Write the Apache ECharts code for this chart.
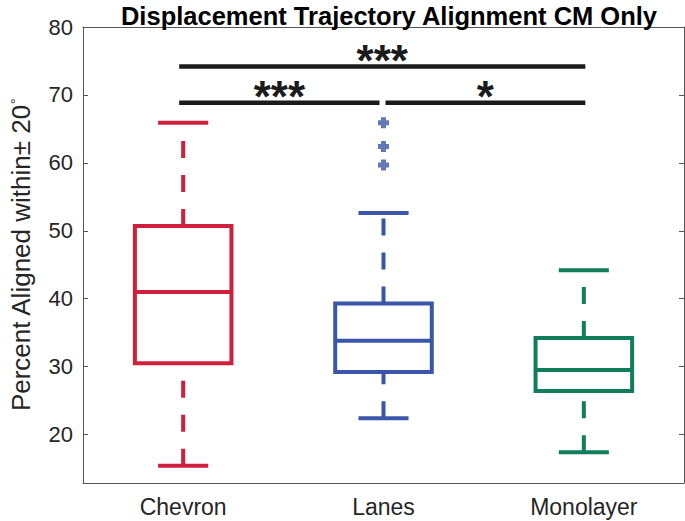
<!DOCTYPE html>
<html>
<head>
<meta charset="utf-8">
<title>Displacement Trajectory Alignment CM Only</title>
<script src="https://cdn.jsdelivr.net/npm/echarts@6/dist/echarts.min.js"></script>
<style>
  html, body { margin: 0; padding: 0; background: #fff; }
  #chart { width: 685px; height: 521px; }
</style>
</head>
<body>
<div id="chart"></div>
<script>
const categories = ['Chevron', 'Lanes', 'Monolayer']
const lowerWhisker = [15.4, 22.4, 17.4]
const q1 = [30.5, 29.2, 26.4]
const medians = [41.0, 33.8, 29.5]
const q3 = [50.7, 39.3, 34.2]
const upperWhisker = [65.9, 52.6, 44.2]
const outliers = [[1, 65.9], [1, 62.4], [1, 59.7]]
const yTicks = [20, 30, 40, 50, 60, 70, 80]
const sigPairs = [[0, 2], [0, 1], [1, 2]]
const sigLevels = [74.2, 68.85, 68.85]
const sigLabels = ['***', '***', '*']
const boxColors = ['#CF1F3D', '#3A56A8', '#127D5B']

const FONT = '"Liberation Sans", Arial, Helvetica, sans-serif'
const AXIS_COLOR = '#555'
const INK = '#1b1b1b'

const chart = echarts.init(document.getElementById('chart'), null, { renderer: 'svg' })

const renderBox = (params, api) => {
  const i = api.value(0)
  const band = api.size([1, 0])[0]
  const x = api.coord([i, 0])[0]
  const yLo = api.coord([i, api.value(1)])[1]
  const yQ1 = api.coord([i, api.value(2)])[1]
  const yMed = api.coord([i, api.value(3)])[1]
  const yQ3 = api.coord([i, api.value(4)])[1]
  const yHi = api.coord([i, api.value(5)])[1]
  const half = band * 0.241
  const cap = band * 0.125
  const color = boxColors[i]
  const solid = { stroke: color, lineWidth: 4, fill: 'none' }
  const dashed = { stroke: color, lineWidth: 4, lineDash: [17, 17] }
  return {
    type: 'group',
    children: [
      // whiskers drawn from the lower value upwards, like matlab
      { type: 'line', shape: { x1: x, y1: yLo, x2: x, y2: yQ1 }, style: dashed },
      { type: 'line', shape: { x1: x, y1: yQ3, x2: x, y2: yHi }, style: dashed },
      { type: 'line', shape: { x1: x - cap, y1: yLo, x2: x + cap, y2: yLo }, style: solid },
      { type: 'line', shape: { x1: x - cap, y1: yHi, x2: x + cap, y2: yHi }, style: solid },
      { type: 'rect', shape: { x: x - half, y: yQ3, width: half * 2, height: yQ1 - yQ3 }, style: solid },
      { type: 'line', shape: { x1: x - half, y1: yMed, x2: x + half, y2: yMed }, style: solid }
    ]
  }
}

const renderSig = (params, api) => {
  const k = params.dataIndex
  const a = api.value(0)
  const b = api.value(1)
  const y = api.coord([a, api.value(2)])[1]
  const x1 = api.coord([a, 0])[0] + (a === 0 ? -4 : 2)
  const x2 = api.coord([b, 0])[0] + (b === 2 ? 1.5 : -4)
  return {
    type: 'group',
    children: [
      { type: 'line', shape: { x1: x1, y1: y, x2: x2, y2: y }, style: { stroke: INK, lineWidth: 4.5 } },
      {
        type: 'text',
        x: (x1 + x2) / 2,
        y: y - 6,
        style: {
          text: sigLabels[k],
          align: 'center',
          verticalAlign: 'middle',
          font: 'bold 44px ' + FONT,
          fill: INK
        }
      }
    ]
  }
}

const xAxisBase = {
  type: 'category',
  data: categories,
  axisLine: { lineStyle: { color: AXIS_COLOR, width: 1 } },
  axisTick: { inside: true, alignWithLabel: true, length: 5, lineStyle: { color: AXIS_COLOR } },
  splitLine: { show: false }
}

const yAxisBase = {
  type: 'value',
  min: 12.87,
  max: 80,
  axisLine: { show: true, lineStyle: { color: AXIS_COLOR, width: 1 } },
  axisTick: { show: true, inside: true, length: 5, customValues: yTicks, lineStyle: { color: AXIS_COLOR } },
  splitLine: { show: false }
}

const option = {
  animation: false,
  backgroundColor: '#fff',
  title: {
    text: 'Displacement Trajectory Alignment CM Only',
    left: 384,
    top: -2,
    textAlign: 'center',
    textStyle: { fontSize: 25.5, fontWeight: 'bold', color: '#000', fontFamily: FONT }
  },
  grid: { left: 83, right: 1, top: 27, bottom: 38 },
  xAxis: [
    {
      ...xAxisBase,
      position: 'bottom',
      axisLabel: { fontSize: 23, color: '#262626', margin: 12, fontFamily: FONT }
    },
    {
      ...xAxisBase,
      position: 'top',
      axisLabel: { show: false }
    }
  ],
  yAxis: [
    {
      ...yAxisBase,
      position: 'left',
      axisLabel: { customValues: yTicks, fontSize: 22, color: '#262626', margin: 10, fontFamily: FONT },
      name: 'Percent Aligned within± 20{deg|°}',
      nameLocation: 'middle',
      nameRotate: 90,
      nameGap: 49,
      nameTextStyle: {
        fontSize: 26,
        color: '#262626',
        fontFamily: FONT,
        rich: {
          deg: { fontSize: 15, verticalAlign: 'top', color: '#262626', fontFamily: FONT }
        }
      }
    },
    {
      ...yAxisBase,
      position: 'right',
      axisLabel: { show: false }
    }
  ],
  series: [
    {
      type: 'custom',
      name: 'boxes',
      renderItem: renderBox,
      encode: { x: 0, y: [1, 2, 3, 4, 5] },
      data: categories.map((c, i) => [i, lowerWhisker[i], q1[i], medians[i], q3[i], upperWhisker[i]]),
      silent: true
    },
    {
      type: 'scatter',
      name: 'outliers',
      symbol: 'path://M3,0H8V3H11V8H8V11H3V8H0V3H3Z',
      symbolSize: 11,
      itemStyle: { color: boxColors[1] },
      data: outliers,
      silent: true
    },
    {
      type: 'custom',
      name: 'significance',
      renderItem: renderSig,
      encode: { x: [0, 1], y: 2 },
      data: sigPairs.map((p, i) => [p[0], p[1], sigLevels[i]]),
      clip: false,
      silent: true
    }
  ]
}

chart.setOption(option)
</script>
</body>
</html>
